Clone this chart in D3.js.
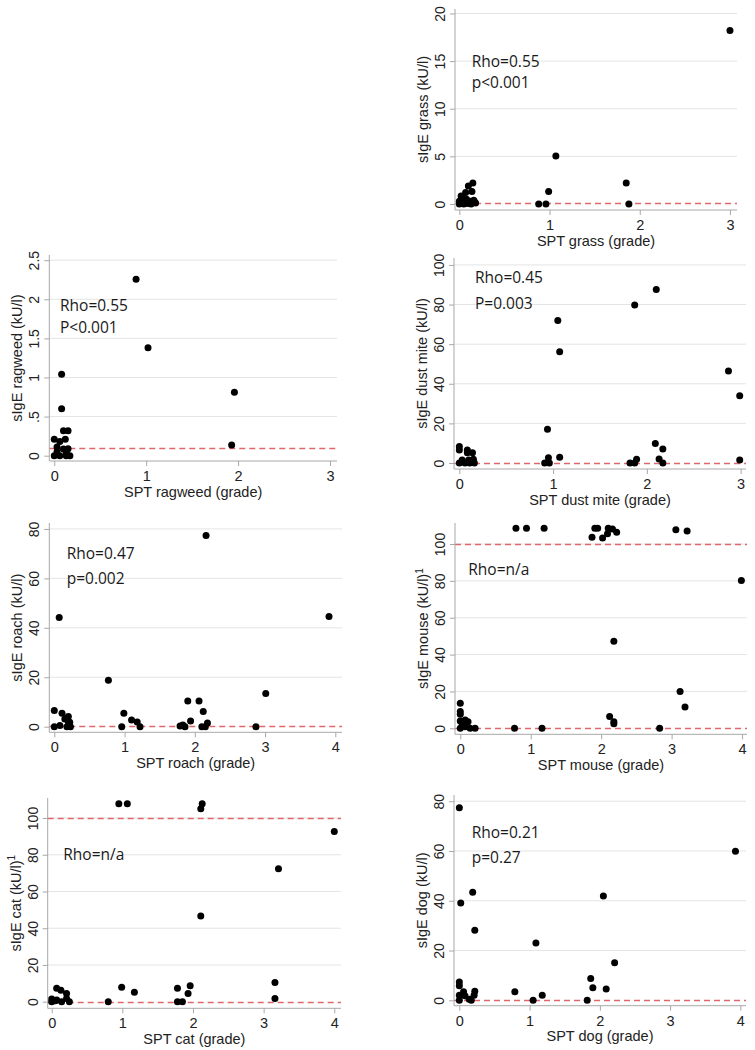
<!DOCTYPE html>
<html>
<head>
<meta charset="utf-8">
<script src="https://cdn.jsdelivr.net/npm/d3@7"></script>
<style>
  html, body { margin: 0; padding: 0; background: #fff; }
  svg { display: block; }
</style>
</head>
<body>
<svg id="chart" width="755" height="1050"></svg>
<script>
// ---------------- DATA ----------------
const xTicks3 = [0, 1, 2, 3];
const xTicks4 = [0, 1, 2, 3, 4];

const grassX = [3.0, 1.07, 1.85, 1.88, 0.99, 0.88, 0.96, 0.15, 0.10, 0.14, 0.07, 0.02, 0.05, 0.0, 0.03, 0.08, 0.12, 0.16, 0.18, 0.10, 0.05, 0.13, 0.0, 0.07, 0.17];
const grassY = [18.2, 5.05, 2.2, 0, 1.3, 0, 0, 2.2, 1.9, 1.3, 1.2, 0.85, 0.6, 0.3, 0.2, 0.5, 0.3, 0.4, 0.1, 0.05, 0, 0, 0, 0.1, 0.2];
const grassYTicks = [0, 5, 10, 15, 20];

const ragweedX = [0.89, 1.02, 1.96, 1.93, 0.08, 0.08, 0.10, 0.15, 0.0, 0.06, 0.12, 0.03, 0.10, 0.15, 0.0, 0.06, 0.13, 0.17, 0.03, 0.13];
const ragweedY = [2.255, 1.38, 0.81, 0.136, 1.04, 0.6, 0.32, 0.32, 0.21, 0.18, 0.21, 0.11, 0.085, 0.09, 0, 0, 0, 0, 0.05, 0.04];
const ragweedYTicks = [0, 0.5, 1, 1.5, 2, 2.5];

const miteX = [2.10, 1.87, 1.05, 1.07, 2.87, 2.99, 0.94, 2.09, 2.17, 2.13, 2.17, 1.89, 1.82, 1.87, 2.99, 1.07, 0.95, 0.91, 0.96, 0, 0, 0.085, 0.14, 0.085, 0.03, 0.10, 0.15, 0, 0.06, 0.11, 0.16];
const miteY = [87.6, 79.8, 71.9, 56.2, 46.5, 33.9, 17.0, 9.9, 7.1, 2.0, 0, 1.9, 0, 0, 1.5, 2.9, 2.7, 0, 0, 8.3, 6.6, 6.6, 5.2, 5.2, 1.5, 1.5, 1.9, 0, 0, 0, 0];
const miteYTicks = [0, 20, 40, 60, 80, 100];

const roachX = [2.16, 3.91, 0.07, 0.77, 3.01, 1.90, 2.06, 2.12, 1.94, 1.83, 1.79, 1.86, 2.18, 2.10, 2.15, 2.87, 0.99, 1.10, 1.18, 1.22, 0.96, 0, 0.11, 0.20, 0.15, 0.22, 0, 0.08, 0.18, 0.23, 0.20];
const roachY = [77.3, 44.6, 44.2, 18.8, 13.4, 10.4, 10.4, 6.1, 2.3, 0.7, 0.3, 0, 1.5, 0, 0, 0, 5.4, 2.7, 1.9, 0, 0, 6.5, 5.4, 4.1, 3.1, 1.8, 0, 0.5, 0, 0, 2.0];
const roachYTicks = [0, 20, 40, 60, 80];

const mouseX = [0.79, 0.94, 1.19, 1.87, 1.91, 1.95, 2.02, 2.09, 2.10, 2.16, 2.22, 3.06, 3.22, 3.99, 2.18, 3.12, 3.19, 2.12, 2.18, 2.18, 0.77, 1.16, 2.83, 0, 0, 0, 0, 0.07, 0.11, 0.03, 0, 0.14, 0.21, 0.07];
const mouseY = [108.5, 108.5, 108.5, 103.6, 108.5, 108.5, 103.3, 105.5, 108.5, 108.2, 106.4, 107.8, 107.1, 80.2, 47.3, 20, 11.5, 6.4, 3.5, 2.4, 0, 0, 0, 13.6, 9.1, 7.6, 4, 4.5, 3.5, 2, 0, 0, 0, 0.9];
const mouseYTicks = [0, 20, 40, 60, 80, 100];

const catX = [0.95, 1.07, 2.11, 2.13, 4.0, 3.21, 2.11, 3.16, 3.16, 1.96, 1.93, 1.78, 1.78, 1.85, 0.99, 1.17, 0.80, 0.07, 0.13, 0.21, 0, 0.07, 0.21, 0, 0.14, 0.25, 0.05];
const catY = [107.8, 107.8, 105.1, 107.8, 92.7, 72.4, 46.7, 10.5, 1.8, 8.7, 4.5, 7.3, 0, 0, 7.8, 5.1, 0, 7.3, 6.2, 4.5, 1.5, 0.9, 1.8, 0, 0, 0, 0.5];
const catYTicks = [0, 20, 40, 60, 80, 100];

const dogX = [0, 3.93, 0.19, 0.02, 2.05, 0.22, 1.09, 2.21, 1.87, 1.90, 2.09, 0.79, 1.05, 1.18, 1.82, 0, 0, 0.06, 0, 0, 0.14, 0.17, 0.21, 0.22, 0.08];
const dogY = [77.4, 59.9, 43.4, 39.1, 41.9, 28.1, 23.0, 15.1, 8.8, 5.0, 4.5, 3.4, 0, 2.0, 0, 7.4, 5.8, 3.4, 2.0, 0, 0.4, 0, 2, 3.6, 1.8];
const dogYTicks = [0, 20, 40, 60, 80];

const cutLow = [0.1];
const cutLowHigh = [0.1, 100];

const panels = [
  { key: "grass", x: grassX, y: grassY, xTicks: xTicks3, yTicks: grassYTicks, cuts: cutLow,
    xTitle: "SPT grass (grade)", yTitle: "sIgE grass (kU/l)", sup: "", notes: ["Rho=0.55", "p<0.001"] },
  { key: "ragweed", x: ragweedX, y: ragweedY, xTicks: xTicks3, yTicks: ragweedYTicks, cuts: cutLow,
    xTitle: "SPT ragweed (grade)", yTitle: "sIgE ragweed (kU/l)", sup: "", notes: ["Rho=0.55", "P<0.001"] },
  { key: "mite", x: miteX, y: miteY, xTicks: xTicks3, yTicks: miteYTicks, cuts: cutLow,
    xTitle: "SPT dust mite (grade)", yTitle: "sIgE dust mite (kU/l)", sup: "", notes: ["Rho=0.45", "P=0.003"] },
  { key: "roach", x: roachX, y: roachY, xTicks: xTicks4, yTicks: roachYTicks, cuts: cutLow,
    xTitle: "SPT roach (grade)", yTitle: "sIgE roach (kU/l)", sup: "", notes: ["Rho=0.47", "p=0.002"] },
  { key: "mouse", x: mouseX, y: mouseY, xTicks: xTicks4, yTicks: mouseYTicks, cuts: cutLowHigh,
    xTitle: "SPT mouse (grade)", yTitle: "sIgE mouse (kU/l)", sup: "1", notes: ["Rho=n/a"] },
  { key: "cat", x: catX, y: catY, xTicks: xTicks4, yTicks: catYTicks, cuts: cutLowHigh,
    xTitle: "SPT cat (grade)", yTitle: "sIgE cat (kU/l)", sup: "1", notes: ["Rho=n/a"] },
  { key: "dog", x: dogX, y: dogY, xTicks: xTicks4, yTicks: dogYTicks, cuts: cutLow,
    xTitle: "SPT dog (grade)", yTitle: "sIgE dog (kU/l)", sup: "", notes: ["Rho=0.21", "p=0.27"] }
];

// ---------------- LAYOUT (pixels, domains) ----------------
const layout = {
  grass:   { left: 455,  right: 737, top: 9,   bottom: 210,  xDom: [-0.048, 3.078], yDom: [-0.63, 20.47], noteX: 471.7, noteY: 66.7,  noteGap: 21 },
  ragweed: { left: 49.3, right: 337, top: 255, bottom: 461,  xDom: [-0.054, 3.076], yDom: [-0.068, 2.566], noteX: 60,   noteY: 311,   noteGap: 21.7 },
  mite:    { left: 454,  right: 746, top: 258, bottom: 469,  xDom: [-0.057, 3.057], yDom: [-3.03, 103.5], noteX: 475,  noteY: 283.3, noteGap: 26 },
  roach:   { left: 49.3, right: 342, top: 523, bottom: 732.3, xDom: [-0.071, 4.095], yDom: [-2.27, 82.4], noteX: 66.7, noteY: 559.3, noteGap: 25 },
  mouse:   { left: 455,  right: 747, top: 523, bottom: 734.3, xDom: [-0.075, 4.07], yDom: [-3.26, 111.4], noteX: 468.3, noteY: 575,  noteGap: 25 },
  cat:     { left: 47.7, right: 341, top: 798, bottom: 1008.3, xDom: [-0.057, 4.095], yDom: [-3.6, 110.9], noteX: 63.3, noteY: 860,  noteGap: 25 },
  dog:     { left: 454,  right: 746, top: 795, bottom: 1005.7, xDom: [-0.076, 4.08], yDom: [-2.17, 82.5], noteX: 471.7, noteY: 838.3, noteGap: 25 }
};

const axisColor = "#a8a8a8";
const gridColor = "#e4e4e4";
const textColor = "#222";
const cutColor = "#e0676b";
const sansFont = "'Liberation Sans', Arial, sans-serif";
const noteFont = "'Open Sans', 'Noto Sans', sans-serif";

const svg = d3.select("#chart");

function fmtStata(d) {
  return String(d).replace(/^0\./, ".");
}

panels.forEach(p => {
  const L = layout[p.key];
  const x = d3.scaleLinear().domain(L.xDom).range([L.left, L.right]);
  const y = d3.scaleLinear().domain(L.yDom).range([L.bottom, L.top]);
  const g = svg.append("g").attr("class", "panel-" + p.key);

  // gridlines
  g.append("g").selectAll("line")
    .data(p.yTicks.filter(t => t !== 0))
    .join("line")
    .attr("x1", L.left).attr("x2", L.right)
    .attr("y1", d => y(d)).attr("y2", d => y(d))
    .attr("stroke", gridColor).attr("stroke-width", 1);

  // cutoff dashed lines
  g.append("g").selectAll("line")
    .data(p.cuts)
    .join("line")
    .attr("x1", L.left).attr("x2", L.right)
    .attr("y1", d => Math.round(y(d)) + 0.5).attr("y2", d => Math.round(y(d)) + 0.5)
    .attr("stroke", cutColor).attr("stroke-width", 1.3)
    .attr("stroke-dasharray", "6,4");

  // y axis
  const yAxis = g.append("g")
    .attr("transform", `translate(${L.left},0)`)
    .call(d3.axisLeft(y).tickValues(p.yTicks).tickSize(5).tickSizeOuter(0).tickFormat(fmtStata));
  yAxis.select(".domain").attr("stroke", axisColor);
  yAxis.selectAll(".tick line").attr("stroke", axisColor);
  yAxis.selectAll(".tick text")
    .attr("transform", "rotate(-90)")
    .attr("x", 0).attr("y", -15).attr("dy", null)
    .attr("text-anchor", "middle")
    .attr("dominant-baseline", "central")
    .attr("fill", textColor)
    .style("font-family", sansFont).style("font-size", "14px");

  // x axis
  const xAxis = g.append("g")
    .attr("transform", `translate(0,${L.bottom})`)
    .call(d3.axisBottom(x).tickValues(p.xTicks).tickSize(5).tickSizeOuter(0).tickFormat(d3.format("d")));
  xAxis.select(".domain").attr("stroke", axisColor);
  xAxis.selectAll(".tick line").attr("stroke", axisColor);
  xAxis.selectAll(".tick text")
    .attr("y", 15).attr("dy", null)
    .attr("dominant-baseline", "central")
    .attr("fill", textColor)
    .style("font-family", sansFont).style("font-size", "14.5px");

  // domain lines full extent
  yAxis.select(".domain").attr("d", `M0,${L.top}V${L.bottom}`);
  xAxis.select(".domain").attr("d", `M${L.left},0H${L.right}`);

  // x title
  g.append("text")
    .attr("x", (L.left + L.right) / 2)
    .attr("y", L.bottom + 30.5)
    .attr("text-anchor", "middle")
    .attr("dominant-baseline", "central")
    .attr("fill", textColor)
    .style("font-family", sansFont).style("font-size", "14.5px")
    .text(p.xTitle);

  // y title
  const yt = g.append("text")
    .attr("transform", `translate(${L.left - 32},${(L.top + L.bottom) / 2}) rotate(-90)`)
    .attr("text-anchor", "middle")
    .attr("dominant-baseline", "central")
    .attr("fill", textColor)
    .style("font-family", sansFont).style("font-size", "14.5px");
  yt.append("tspan").text(p.yTitle);
  if (p.sup) {
    yt.append("tspan").attr("dy", "-0.45em").style("font-size", "10px").text(p.sup);
  }

  // points
  g.append("g").selectAll("circle")
    .data(p.x.map((v, i) => [v, p.y[i]]))
    .join("circle")
    .attr("cx", d => x(d[0]))
    .attr("cy", d => y(d[1]))
    .attr("r", 3.5)
    .attr("fill", "#000");

  // annotation
  g.append("g").selectAll("text")
    .data(p.notes)
    .join("text")
    .attr("x", L.noteX)
    .attr("y", (d, i) => L.noteY + i * L.noteGap)
    .attr("fill", "#1a1a1a")
    .style("font-family", noteFont).style("font-size", "15.5px")
    .text(d => d);
});
</script>
</body>
</html>
